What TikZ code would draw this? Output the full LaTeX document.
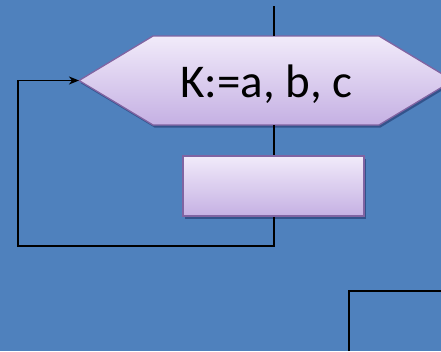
\documentclass[tikz,border=0pt]{standalone}
\usepackage{fontspec}
\setmainfont{Carlito}
\usetikzlibrary{arrows.meta,shadows}
\definecolor{bgblue}{HTML}{4F81BD}
\definecolor{boxtop}{HTML}{F1EBFA}
\definecolor{boxbot}{HTML}{C5B0E3}
\definecolor{boxedge}{HTML}{8064A2}
\tikzset{
  shapefill/.style={top color=boxtop, bottom color=boxbot, draw=boxedge,
    drop shadow={shadow xshift=1.5pt, shadow yshift=-2.5pt, opacity=0.35, fill=black!80!blue}},
  flow/.style={draw=black, line width=1.7pt},
  procbox/.style={shapefill, line width=2pt, minimum width=181pt, minimum height=60pt, inner sep=0pt},
}
\begin{document}
\begin{tikzpicture}[x=1pt,y=-1pt]
  % page background
  \fill[bgblue] (0,0) rectangle (441,351);
  \useasboundingbox (0,0) rectangle (441,351);

  % loop header (hexagon)
  \coordinate (hexW) at (79,80.5);
  \coordinate (hexN) at (274,36);
  \coordinate (hexS) at (274,125);
  \path[shapefill, line width=1.3pt]
    (hexW) -- (153,36) -- (379,36) -- (453,80.5) -- (379,125) -- (153,125) -- cycle;
  \node (hexlabel) at (266.5,84) {\fontsize{47pt}{52pt}\selectfont K:=a, b, c};

  % loop body
  \node[procbox] (body) at (273.5,186) {};

  % connectors
  \coordinate (entry) at (274,6);
  \coordinate (back) at (18,246);
  \draw[flow] (entry) -- (hexN);
  \draw[flow] (hexS) -- (body.north -| hexS);
  \draw[flow, -{Stealth[length=10pt,width=8pt,inset=3pt]}] (body.south -| hexS) |- (back) |- (hexW);

  % next block, partly visible
  \coordinate (nextA) at (349,351);
  \coordinate (nextB) at (441,291);
  \draw[flow] (nextA) |- (nextB);
\end{tikzpicture}
\end{document}
